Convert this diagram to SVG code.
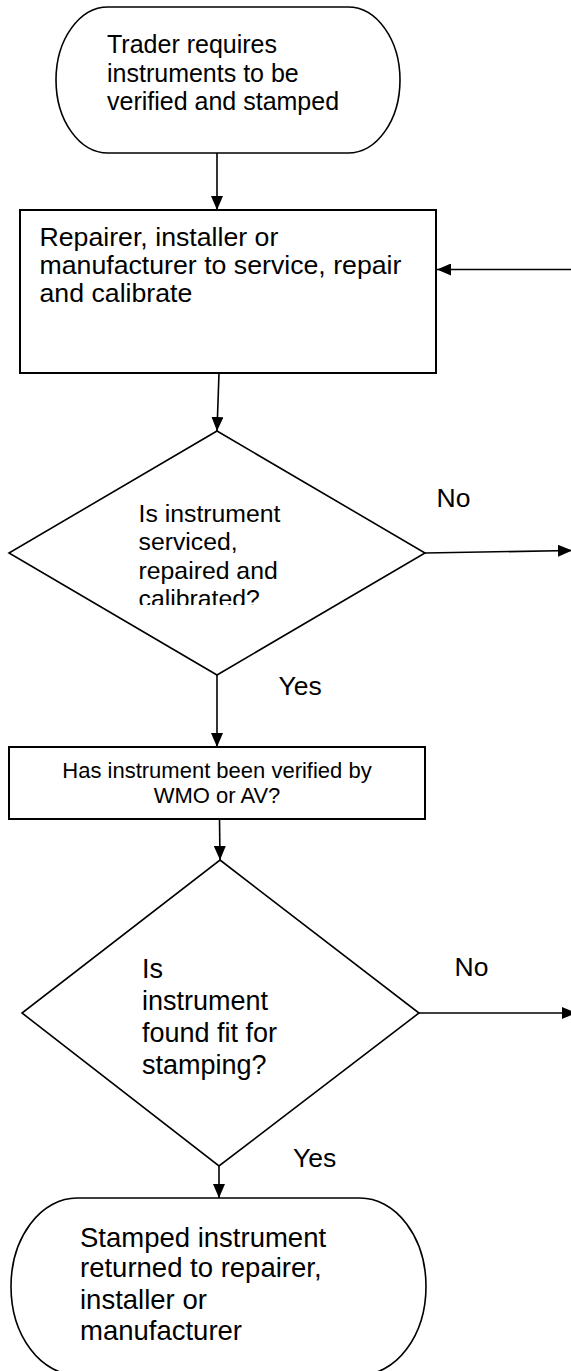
<svg xmlns="http://www.w3.org/2000/svg" width="571" height="1371" viewBox="0 0 571 1371">
<style>
.shape{fill:#fff;stroke:#000;stroke-width:1.6}
.box{fill:#fff;stroke:#000;stroke-width:2}
.conn{fill:none;stroke:#000;stroke-width:1.6;marker-end:url(#ah)}
text{font-family:"Liberation Sans",Arial,sans-serif;fill:#000}
</style>
<defs>
<marker id="ah" markerUnits="userSpaceOnUse" markerWidth="14" markerHeight="12" refX="14" refY="6" orient="auto">
<path d="M0,0 L14,6 L0,12 z" fill="#000"/>
</marker>
<clipPath id="clipd1"><rect x="120" y="480" width="200" height="125"/></clipPath>
</defs>
<g id="start">
<rect class="shape" x="56" y="7" width="344" height="146" rx="52" ry="73"/>
<text font-size="25" x="107" y="53">Trader requires</text>
<text font-size="25" x="107" y="81.5">instruments to be</text>
<text font-size="25" x="107" y="110">verified and stamped</text>
</g>
<g id="service">
<rect class="box" x="20" y="210" width="416" height="163"/>
<text font-size="26.7" x="39.5" y="245.5">Repairer, installer or</text>
<text font-size="26.7" x="39.5" y="274">manufacturer to service, repair</text>
<text font-size="26.7" x="39.5" y="302">and calibrate</text>
</g>
<g id="decision1">
<polygon class="shape" points="217,431 425,553 217,675 9,553"/>
<g clip-path="url(#clipd1)" font-size="24.8">
<text x="138.5" y="521.5">Is instrument</text>
<text x="138.5" y="550">serviced,</text>
<text x="138.5" y="578.5">repaired and</text>
<text x="138.5" y="607">calibrated?</text>
</g>
</g>
<g id="verified">
<rect class="box" x="9" y="747" width="416" height="72"/>
<text font-size="22" x="217" y="778" text-anchor="middle">Has instrument been verified by</text>
<text font-size="22" x="217" y="803" text-anchor="middle">WMO or AV?</text>
</g>
<g id="decision2">
<polygon class="shape" points="220,860 419,1013 219,1166 22,1013"/>
<text font-size="27" x="142" y="978">Is</text>
<text font-size="27" x="142" y="1010">instrument</text>
<text font-size="27" x="142" y="1042">found fit for</text>
<text font-size="27" x="142" y="1073.5">stamping?</text>
</g>
<g id="end">
<rect class="shape" x="11" y="1198" width="415" height="177" rx="66" ry="88.5"/>
<text font-size="27.5" x="80" y="1246.5">Stamped instrument</text>
<text font-size="27.5" x="80" y="1277">returned to repairer,</text>
<text font-size="27.5" x="80" y="1308.5">installer or</text>
<text font-size="27.5" x="80" y="1340">manufacturer</text>
</g>
<g id="connectors">
<line class="conn" x1="217" y1="153" x2="217" y2="210"/>
<line class="conn" x1="571" y1="269.5" x2="437" y2="269.5"/>
<line class="conn" x1="219" y1="373" x2="217" y2="431"/>
<line class="conn" x1="425" y1="553" x2="572" y2="550.5"/>
<line class="conn" x1="217" y1="675" x2="217" y2="747"/>
<line class="conn" x1="219.5" y1="819" x2="220" y2="860"/>
<line class="conn" x1="419" y1="1013" x2="576" y2="1013"/>
<line class="conn" x1="219" y1="1166" x2="219" y2="1198"/>
<text font-size="26.5" x="436.5" y="506.5">No</text>
<text font-size="26.5" x="278.5" y="695">Yes</text>
<text font-size="26.5" x="454.5" y="976">No</text>
<text font-size="26.5" x="293" y="1166.5">Yes</text>
</g>
</svg>
